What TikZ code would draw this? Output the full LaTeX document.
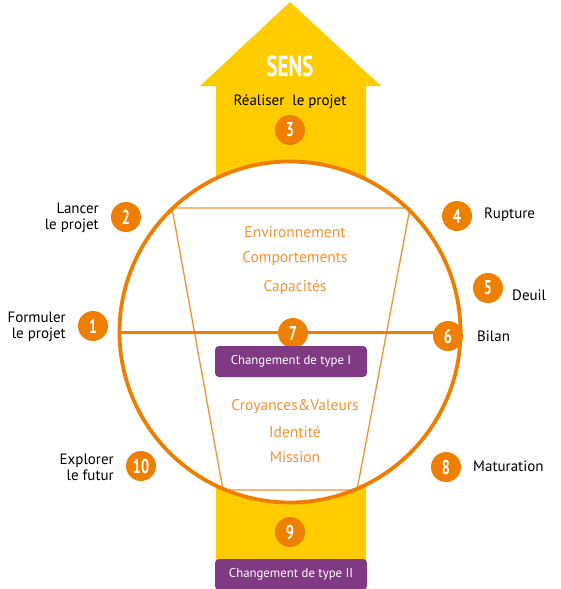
\documentclass[tikz,border=0pt]{standalone}
\usepackage{fontspec}
\setmainfont{PT Sans}
\newfontfamily\condfont{PT Sans}[FakeStretch=0.72]
\definecolor{ringorange}{HTML}{EF7D00}
\definecolor{badgeorange}{HTML}{EE7F00}
\definecolor{textorange}{HTML}{F39233}
\definecolor{arrowyellow}{HTML}{FFCC00}
\definecolor{boxpurple}{HTML}{7F3A83}
\tikzset{
  badge/.style={circle, fill=badgeorange, minimum size=30pt, inner sep=0pt,
    text=white, font=\condfont\bfseries\fontsize{20}{20}\selectfont},
  lbl/.style={font=\fontsize{15}{16}\selectfont, text=black, inner sep=0pt},
  lvl/.style={font=\fontsize{15.5}{17}\selectfont, text=textorange, inner sep=0pt},
  pbox/.style={fill=boxpurple, rounded corners=4pt, minimum width=152pt,
    minimum height=31pt, inner sep=0pt, text=white,
    font=\fontsize{12.8}{14}\selectfont},
}
\begin{document}
\begin{tikzpicture}[x=1pt,y=-1pt]
\useasboundingbox (0,0) rectangle (560,589);
% yellow arrow
\fill[arrowyellow] (216,580) -- (216,86) -- (200,86) -- (290,2) -- (381,86)
  -- (366,86) -- (366,580) -- cycle;
% ring
\node[circle, fill=white, minimum size=341pt, inner sep=0pt] (ringfill) at (290,332) {};
\draw[textorange, line width=1.3pt] (172,208) -- (410,208) -- (357,490) -- (223,490) -- cycle;
\node[circle, draw=ringorange, line width=3.8pt, minimum size=341pt, inner sep=0pt] (ring) at (290,332) {};
\draw[ringorange, line width=3pt] (ring.west) -- (ring.east);
% title
\node[font=\condfont\bfseries\fontsize{29}{29}\selectfont, text=white] (sens) at (290,66) {SENS};
\node[lbl] (t3) at (290,102) {Réaliser\ \ le projet};
% badges
\node[badge] (b1) at (93,326) {1};
\node[badge] (b2) at (126,217) {2};
\node[badge] (b3) at (290,130) {3};
\node[badge] (b4) at (457,216) {4};
\node[badge] (b5) at (488,288) {5};
\node[badge] (b6) at (448,336) {6};
\node[badge] (b7) at (293,333) {7};
\node[badge] (b8) at (446,467) {8};
\node[badge] (b9) at (290,532) {9};
\node[badge] (b10) at (141,466) {10};
% side labels
\node[lbl, anchor=east, align=right] (l2) at (99,218) {Lancer\\le projet};
\node[lbl, anchor=east, align=right] (l1) at (66,327) {Formuler\\le projet};
\node[lbl, anchor=east, align=right] (l10) at (114,467) {Explorer\\le futur};
\node[lbl, anchor=west] (l4) at (484,215) {Rupture};
\node[lbl, anchor=west] (l5) at (512,295) {Deuil};
\node[lbl, anchor=west] (l6) at (477,336) {Bilan};
\node[lbl, anchor=west] (l8) at (473,466) {Maturation};
% levels
\node[lvl] (v1) at (295,232) {Environnement};
\node[lvl] (v2) at (295,259) {Comportements};
\node[lvl] (v3) at (295,287) {Capacités};
\node[lvl] (v4) at (295,407) {Croyances\&Valeurs};
\node[lvl] (v5) at (295,432) {Identité};
\node[lvl] (v6) at (295,457) {Mission};
% purple boxes
\node[pbox] (p1) at (291,361.5) {Changement de type I};
\node[pbox] (p2) at (291,574.5) {Changement de type II};
\end{tikzpicture}
\end{document}
